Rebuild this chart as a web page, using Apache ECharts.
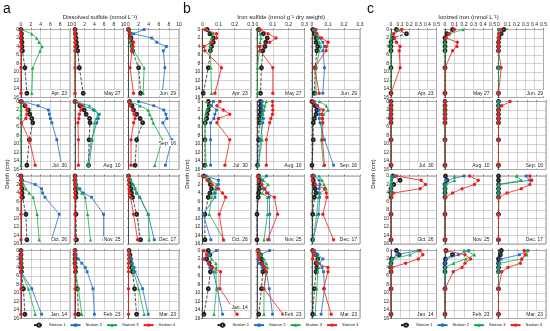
<!DOCTYPE html>
<html><head><meta charset="utf-8">
<script src="https://cdn.jsdelivr.net/npm/echarts@6/dist/echarts.min.js"></script>
<style>html,body{margin:0;padding:0;background:#fff}#c{width:550px;height:331px}</style>
</head><body><div id="c"></div>
<script>
const depths = [0,1,2,3,4,5,9,15];
const dates = ['Apr. 23','May 27','Jun. 29','Jul. 30','Aug. 10','Sep. 16','Oct. 26','Nov. 25','Dec. 17','Jan. 14','Feb. 23','Mar. 23'];
const stations = ['Station 1','Station 2','Station 3','Station 4'];
const depthTicks = [0,2,4,6,8,10,12,14,16];
const sulfideTicks = [0,2,4,6,8,10];
const ironSulfideTicks = [0,0.1,0.2,0.3];
const ionizedTicks = [0,0.1,0.2,0.3,0.4,0.5];
const Z = [0,0,0,0,0,0,0,0];

// a: Dissolved sulfide (mmol L-1)
const sulfideSt1 = [
 [0,0.1,0.1,0.2,0.2,0.3,0.8,1.2],[0,0.1,0.2,0.3,0.4,0.55,0.9,1.7],[0,0.3,0.5,0.6,0.7,0.8,2.0,2.4],
 [0,0.8,1.5,1.8,2.2,2.4,1.7,1.2],[0,1.0,1.9,2.3,3.0,3.1,2.9,2.8],[0.2,0.7,1.0,1.6,2.3,2.8,1.6,1.3],
 [0,0.1,0.1,0.2,0.2,0.3,1.0,1.2],[0,0,0.1,0.1,0.2,0.2,0.2,0.3],[0,0.2,0.3,0.5,0.6,0.8,1.6,2.4],
 [0,0,0,0,0.1,0.1,0.5,0.8],[0,0,0,0,0.1,0.1,0.5,0.7],[0.1,0.3,0.4,0.5,0.6,0.8,1.2,1.6]];
const sulfideSt2 = [
 null,null,[3.1,1.0,4.6,5.6,7.5,6.9,7.2,6.7],
 [0.3,3.5,5.6,5.8,6.0,6.3,7.3,8.3],[0.2,1.7,3.8,5.0,4.8,4.5,3.4,2.6],[2.0,5.0,7.0,7.4,7.6,6.8,8.6,7.3],
 [0,0.2,2.9,4.2,4.4,4.9,7.8,6.2],[0,0,0.2,1.0,1.7,3.4,5.9,5.9],[0,0.3,0.8,1.3,1.6,2.2,3.9,5.1],
 [0,0,0,0,0,0,2.2,4.2],[0,0.2,0.7,1.4,2.1,2.5,3.7,4.0],[0,0.2,0.5,0.7,1.1,1.3,2.8,3.9]];
const sulfideSt3 = [
 [0,2.2,3.2,3.7,4.3,3.9,2.4,2.2],Z,[0.2,0.6,0.3,0.4,0.6,1.0,3.1,2.9],
 Z,[0.2,3.0,4.1,4.8,4.4,4.0,3.6,2.9],[0.2,2.3,3.9,4.2,4.6,4.9,6.7,5.2],
 [0,0.2,0.5,1.0,1.7,2.5,3.3,3.7],[0,0,0.2,0.7,1.4,2.1,2.6,3.2],[0,0.5,1.0,1.3,1.6,2.3,3.9,4.1],
 [0,0,0,0,0,0,1.5,2.9],[0,0,0,0.1,0.1,0.1,0.7,1.4],[0,0.1,0.1,0.2,0.8,1.0,2.0,3.1]];
const sulfideSt4 = [
 Z,Z,[0,0.2,0.4,1.0,0.9,0.7,0.3,1.0],
 [0,1.0,1.2,1.2,1.0,0.1,1.7,2.9],[0,1.4,1.2,0.9,0.8,0.6,0.7,0.7],[0,0.3,0.8,1.1,1.3,1.0,0.5,0.5],
 Z,Z,[0,0,0,0.1,0.2,0.4,1.0,1.8],
 Z,Z,Z];

// b: Iron sulfide (mmol g-1 dry weight)
const ironSulfideSt1 = [
 [0.03,0.047,0.068,0.068,0.057,0.05,0.037,0.006],[0.01,0.04,0.065,0.055,0.05,0.037,0.028,0.022],[0.005,0.015,0.025,0.025,0.036,0.03,0.02,0.015],
 [0.037,0.043,0.037,0.03,0.027,0.018,0.016,0.016],[0.022,0.022,0.022,0.02,0.018,0.015,0.01,0.003],[0,0.02,0.03,0.025,0.015,0.008,0.008,0],
 [0.01,0.04,0.05,0.057,0.047,0.037,0.016,0.016],[0.01,0.015,0.02,0.015,0.01,0.008,0,0],[0.005,0.008,0.015,0.02,0.025,0.015,0.004,0.004],
 [0.037,0.047,0.027,0.043,0.057,0.05,0.037,0.01],[0.007,0.022,0.028,0.033,0.044,0.037,0.028,0.011],[0.004,0.025,0.036,0.025,0.03,0.025,0.015,0.004]];
const ironSulfideSt2 = [
 null,null,[0.025,0.03,0.045,0.068,0.078,0.068,0.078,0.068],
 [0.068,0.057,0.088,0.078,0.072,0.051,0.051,0.051],[0.033,0.033,0.035,0.033,0.04,0.037,0.022,0.011],[0.015,0.036,0.046,0.044,0.046,0.05,0.078,0.135],
 [0.025,0.1,0.1,0.09,0.08,0.078,0.006,0.053],[0.06,0.033,0.03,0.04,0.07,0.077,0.08,0.077],[0.015,0.045,0.05,0.045,0.045,0.048,0.042,0.008],
 [0.088,0.043,0.01,0.037,0.047,0.068,0.092,0.125],[0.08,0.022,0.007,0.011,0.033,0.059,0.077,0.098],[0.015,0.036,0.068,0.046,0.063,0.072,0.078,0.057]];
const ironSulfideSt3 = [
 [0.027,0.068,0.057,0.047,0.047,0.05,0.053,0.057],[0.01,0.02,0.025,0.02,0.02,0.015,0.003,0.003],[0.01,0.02,0.035,0.046,0.057,0.046,0.025,0.025],
 [0.027,0.047,0.027,0.023,0.016,0.016,0.018,0.023],[0.059,0.05,0.045,0.037,0.028,0.024,0.033,0.007],[0.046,0.089,0.1,0.072,0.068,0.063,0.057,0.072],
 [0.01,0.05,0.09,0.08,0.068,0.057,0.043,0.133],[0.02,0.04,0.07,0.05,0.033,0.066,0.066,0.044],[0.045,0.063,0.075,0.089,0.05,0.04,0.03,0.006],
 [0.01,0.037,0.057,0.084,0.086,0.084,0.088,0.072],[0,0.022,0.044,0.059,0.066,0.059,0.044,0.044],[0.004,0.02,0.036,0.036,0.042,0.036,0.03,0.02]];
const ironSulfideSt4 = [
 [0.016,0.088,0.088,0.058,0.01,0.016,0.119,0.078],[0.02,0.07,0.12,0.08,0.015,0.02,0.1,0.1],[0.02,0.03,0.06,0.1,0.09,0.088,0.015,0.045],
 [0.11,0.09,0.13,0.17,0.1,0.09,0.17,0.14],[0.098,0.098,0.1,0.098,0.088,0.08,0.059,0.059],[0.005,0.03,0.07,0.06,0.065,0.068,0.065,0.078],
 [0,0.03,0.06,0.1,0.125,0.144,0.105,0.13],[0.005,0.01,0.03,0.05,0.06,0.11,0.13,0.068],[0,0.003,0.02,0.078,0.09,0.093,0.068,0.135],
 [0.01,0.027,0.006,0.04,0.057,0.113,0.109,0.215],[0.011,0.007,0.011,0.033,0.05,0.059,0.044,0.164],[0.004,0.015,0.004,0.03,0.1,0.1,0.072,0.12]];

// c: Ionized iron (mmol L-1)
const ionizedSt1 = [
 [0.06,0.17,0.02,0,0,0,0,0],[0.08,0.02,0,0,0,0,0,0],[0.06,0.03,0.005,0,0,0,0,0],
 Z,Z,Z,
 [0.02,0.1,0.03,0,0,0,0,0],[0.005,0.02,0,0,0,0,0,0],Z,
 [0.06,0.09,0.005,0,0,0,0,0],[0.01,0.08,0.005,0,0,0,0,0],[0.03,0.02,0,0,0,0,0,0]];
const ionizedSt2 = [
 null,null,Z,
 Z,Z,Z,
 [0.037,0.007,0,0,0,0,0,0],[0.2,0.01,0,0,0,0,0,0],[0.29,0.33,0,0,0,0,0,0],
 [0.3,0.063,0.015,0,0,0,0,0],[0.25,0.14,0.017,0,0,0,0,0],[0.31,0.22,0.028,0,0,0,0,0]];
const ionizedSt3 = [
 [0.08,0.007,0,0,0,0,0,0],[0.19,0.05,0.007,0,0,0,0,0],Z,
 Z,Z,Z,
 [0.005,0,0,0,0,0,0,0],[0.1,0.1,0.01,0,0,0,0,0],[0.19,0.24,0,0,0,0,0,0],
 [0.3,0.21,0.01,0,0,0,0,0],[0.2,0.31,0.22,0.09,0,0,0,0],[0.3,0.3,0.245,0.017,0,0,0,0]];
const ionizedSt4 = [
 [0.12,0.03,0.04,0.06,0.1,0.09,0.1,0],[0.1,0.04,0.01,0.13,0.125,0.08,0,0],[0.03,0.005,0,0,0,0,0.03,0],
 Z,Z,[0.122,0.035,0,0,0,0,0,0],
 [0.063,0.33,0.38,0.32,0.026,0.005,0,0],[0.26,0.35,0.31,0.18,0.08,0.005,0,0],[0.33,0.35,0.33,0.24,0.09,0.005,0,0],
 [0.32,0.35,0.3,0.16,0.007,0,0,0],[0.007,0.21,0.27,0.21,0.18,0.087,0,0],[0.27,0.28,0.245,0.23,0.1,0.035,0,0]];

const FONT = '"Liberation Sans", Arial, sans-serif';
const colors = ['#222222','#1f6fc5','#1aab48','#ee1c1c'];
const symbols = ['emptyCircle','rect','triangle','circle'];
const symSizes = [2.8,2.8,3.4,3.3];

const panels = [
 {letter:'a', title:'Dissolved sulfide (mmol L\u207B\u00B9)', ticks:sulfideTicks, data:[sulfideSt1,sulfideSt2,sulfideSt3,sulfideSt4],
  lefts:[21,75,128.5], widths:[49,48.5,50.5], letterX:3, depthX:7, legendX:33},
 {letter:'b', title:'Iron sulfide (mmol g\u207B\u00B9 dry weight)', ticks:ironSulfideTicks, data:[ironSulfideSt1,ironSulfideSt2,ironSulfideSt3,ironSulfideSt4],
  lefts:[202.3,257,312], widths:[48.5,47.5,48], letterX:183, depthX:187, legendX:216.5},
 {letter:'c', title:'Ionized iron (mmol L\u207B\u00B9)', ticks:ionizedTicks, data:[ionizedSt1,ionizedSt2,ionizedSt3,ionizedSt4],
  lefts:[391,445,498.5], widths:[45.5,47.5,47.5], letterX:367, depthX:373, legendX:400}
];
const rowTops = [29.5,101.5,176,250.5];
const rowH = 68;
// per-label vertical lift for a few date labels placed higher in the original
const labelLift = {'0-5':22, '1-9':7};

const grid=[], xAxis=[], yAxis=[], series=[], graphic=[];
panels.forEach((P,p)=>{
  const tmax = P.ticks[P.ticks.length-1];
  const tint = P.ticks[1]-P.ticks[0];
  for(let r=0;r<4;r++) for(let c=0;c<3;c++){
    const d = r*3+c, g = grid.length;
    const left=P.lefts[c], top=rowTops[r], w=P.widths[c];
    grid.push({left:left, top:top, width:w, height:rowH, show:true, borderColor:'#555', borderWidth:0.6});
    xAxis.push({gridIndex:g, type:'value', position:'top', min:0, max:tmax, interval:tint,
      axisLabel:{show:r===0, fontSize:5, margin:2, color:'#222', fontFamily:FONT},
      axisTick:{show:true, length:1.5, lineStyle:{color:'#444', width:0.6}},
      axisLine:{show:false},
      splitLine:{show:true, lineStyle:{color:'#b4b4b4', width:0.6}}});
    yAxis.push({gridIndex:g, type:'value', inverse:true, min:depthTicks[0], max:depthTicks[depthTicks.length-1], interval:depthTicks[1]-depthTicks[0],
      axisLabel:{show:c===0, fontSize:5, margin:2, color:'#222', fontFamily:FONT},
      axisTick:{show:true, length:1.5, lineStyle:{color:'#444', width:0.6}},
      axisLine:{show:true, lineStyle:{color:'#333', width:0.8}},
      splitLine:{show:true, lineStyle:{color:'#b4b4b4', width:0.6}}});
    for(let s=0;s<4;s++){
      const vals = P.data[s][d];
      if(!vals) continue;
      series.push({type:'line', name:stations[s], xAxisIndex:g, yAxisIndex:g,
        data: vals.map((v,i)=>[v,depths[i]]),
        symbol:symbols[s], symbolSize:symSizes[s], showSymbol:true,
        lineStyle:{color:colors[s], width:0.8, type: s===0?'dashed':'solid'},
        itemStyle:{color:colors[s], borderColor:colors[s], borderWidth: s===0?0.6:0},
        animation:false, silent:true, z:2+s});
    }
    const lift = labelLift[p+'-'+d] || 0;
    graphic.push({type:'text', x:left+w-2, y:top+rowH-1.5-lift, z:50,
      style:{text:dates[d], fontSize:5, fontFamily:FONT, fill:'#222', align:'right', verticalAlign:'bottom',
        backgroundColor:'#fff', padding:[1,1,0,1]}});
  }
  const cx = (P.lefts[0] + P.lefts[2] + P.widths[2]) / 2;
  graphic.push({type:'text', x:cx, y:17, style:{text:P.title, fontSize:6, fontFamily:FONT, fill:'#222', align:'center', verticalAlign:'middle'}});
  graphic.push({type:'text', x:P.letterX, y:2, style:{text:P.letter, fontSize:14, fontFamily:FONT, fill:'#111', align:'left', verticalAlign:'top'}});
  graphic.push({type:'text', x:P.depthX, y:174, rotation:Math.PI/2, style:{text:'Depth (cm)', fontSize:6, fontFamily:FONT, fill:'#222', align:'center', verticalAlign:'middle'}});
});

const legend = panels.map(P=>({data:stations, left:P.legendX, top:322.5, itemWidth:10, itemHeight:4, itemGap:4, padding:0,
  selectedMode:false, textStyle:{fontSize:4.2, color:'#222', fontFamily:FONT}}));

const chart = echarts.init(document.getElementById('c'), null, {renderer:'canvas'});
chart.setOption({animation:false, backgroundColor:'#fff', grid, xAxis, yAxis, series, legend, graphic});
</script></body></html>
